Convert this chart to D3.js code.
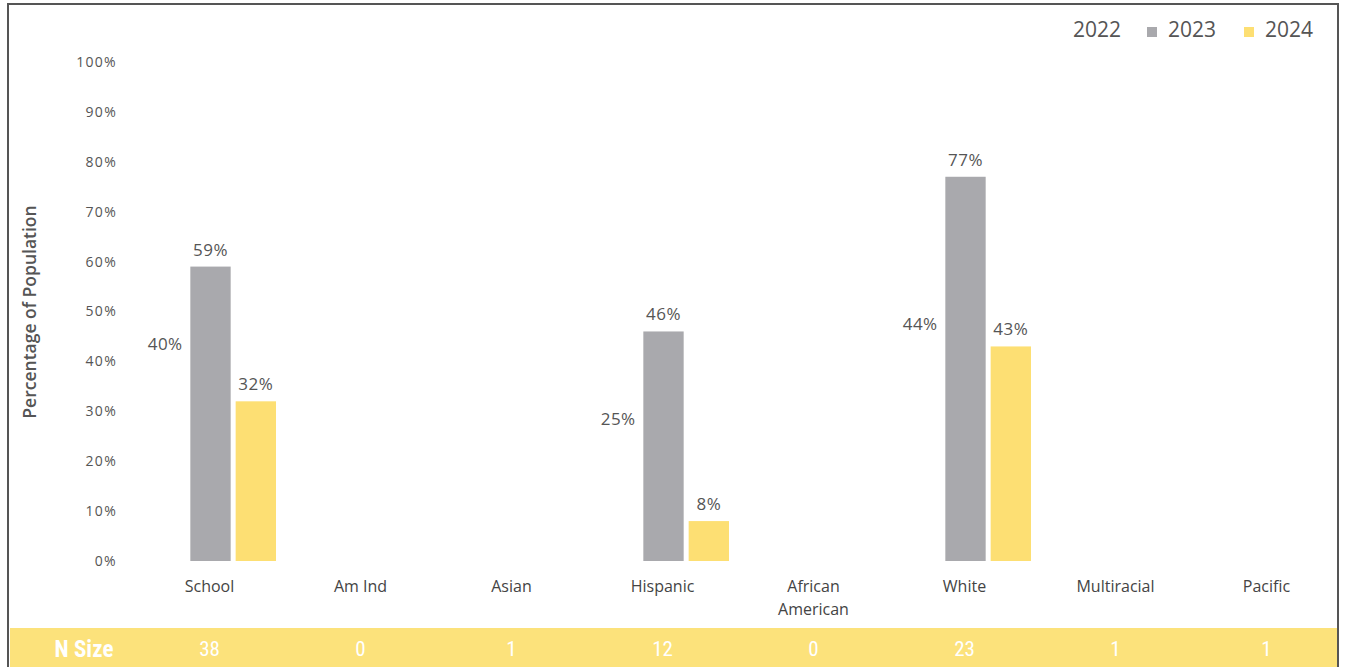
<!DOCTYPE html>
<html>
<head>
<meta charset="utf-8">
<script src="https://cdn.jsdelivr.net/npm/d3@7"></script>
<style>
  body{margin:0;background:#fff;font-family:"Open Sans",sans-serif}
</style>
</head>
<body>
<div id="chart"></div>
<script>
const categories=['School','Am Ind','Asian','Hispanic','African American','White','Multiracial','Pacific']
const years=['2022','2023','2024']
const values2022=[40,null,null,25,null,44,null,null]
const values2023=[59,null,null,46,null,77,null,null]
const values2024=[32,null,null,8,null,43,null,null]
const nSizes=[38,0,1,12,0,23,1,1]
const yTicks=[0,10,20,30,40,50,60,70,80,90,100]

const colors={'2022':'#ffffff','2023':'#a9a9ad','2024':'#fddf73'}
const series=[values2022,values2023,values2024]

const W=1346,H=667
const svg=d3.select('#chart').append('svg')
  .attr('width',W).attr('height',H)

// frame
svg.append('path')
  .attr('d',`M8,667 L8,4 L1338,4 L1338,667`)
  .attr('fill','none').attr('stroke','#555').attr('stroke-width',2)

const x=d3.scaleBand().domain(categories).range([134,1342])
const xi=d3.scaleBand().domain(years).range([11,142]).paddingInner(0.11)
const y=d3.scaleLinear().domain([0,100]).range([561,62])

// y tick labels
svg.append('g').selectAll('text').data(yTicks).join('text')
  .attr('x',117).attr('y',d=>y(d)).attr('dy','0.35em')
  .attr('text-anchor','end').attr('font-size',14).attr('letter-spacing',1.3).attr('fill','#555')
  .text(d=>d+'%')

svg.append('text')
  .attr('transform','translate(36,312) rotate(-90)')
  .attr('text-anchor','middle').attr('font-size',17.5).attr('font-weight',600)
  .attr('fill','#555').text('Percentage of Population')

// bars
const groups=svg.append('g').selectAll('g').data(categories).join('g')
  .attr('transform',d=>`translate(${x(d)},0)`)

groups.each(function(c,i){
  const g=d3.select(this)
  years.forEach((yr,k)=>{
    const v=series[k][i]
    if(v==null) return
    g.append('rect')
      .attr('x',xi(yr)).attr('width',xi.bandwidth())
      .attr('y',y(v)).attr('height',y(0)-y(v))
      .attr('fill',colors[yr])
    g.append('text')
      .attr('x',xi(yr)+xi.bandwidth()/2).attr('y',y(v)-11)
      .attr('text-anchor','middle').attr('font-size',17).attr('letter-spacing',0.5).attr('fill','#555')
      .text(v+'%')
  })
})

// category labels
svg.append('g').selectAll('text').data(categories).join('text')
  .attr('x',d=>x(d)+x.bandwidth()/2).attr('y',592)
  .attr('text-anchor','middle').attr('font-size',16).attr('fill','#444')
  .each(function(d){
    const words=d==='African American'?['African','American']:[d]
    d3.select(this).selectAll('tspan').data(words).join('tspan')
      .attr('x',x(d)+x.bandwidth()/2).attr('dy',(w,j)=>j?23:0).text(w=>w)
  })

// legend
const legend=svg.append('g').attr('font-size',21).attr('fill','#555')
const legX={'2022':1073,'2023':1168,'2024':1265}
years.forEach(yr=>{
  legend.append('rect').attr('x',legX[yr]-21).attr('y',27).attr('width',10).attr('height',10)
    .attr('fill',colors[yr])
  legend.append('text').attr('x',legX[yr]).attr('y',30).attr('dy','0.35em').text(yr)
})

// N size band
svg.append('rect').attr('x',10).attr('y',628).attr('width',1327).attr('height',39)
  .attr('fill','#fce27b')
const nband=svg.append('g').attr('fill','#fff').attr('font-size',21)
  .attr('font-family','"Liberation Sans Narrow","Roboto Condensed",sans-serif')
nband.append('text').attr('x',84).attr('y',649).attr('dy','0.35em')
  .attr('text-anchor','middle').attr('font-weight','bold').attr('font-size',23).text('N Size')
nband.selectAll('text.n').data(nSizes).join('text').attr('class','n')
  .attr('x',(d,i)=>x(categories[i])+x.bandwidth()/2).attr('y',649).attr('dy','0.35em')
  .attr('text-anchor','middle').text(d=>d)
</script>
</body>
</html>
